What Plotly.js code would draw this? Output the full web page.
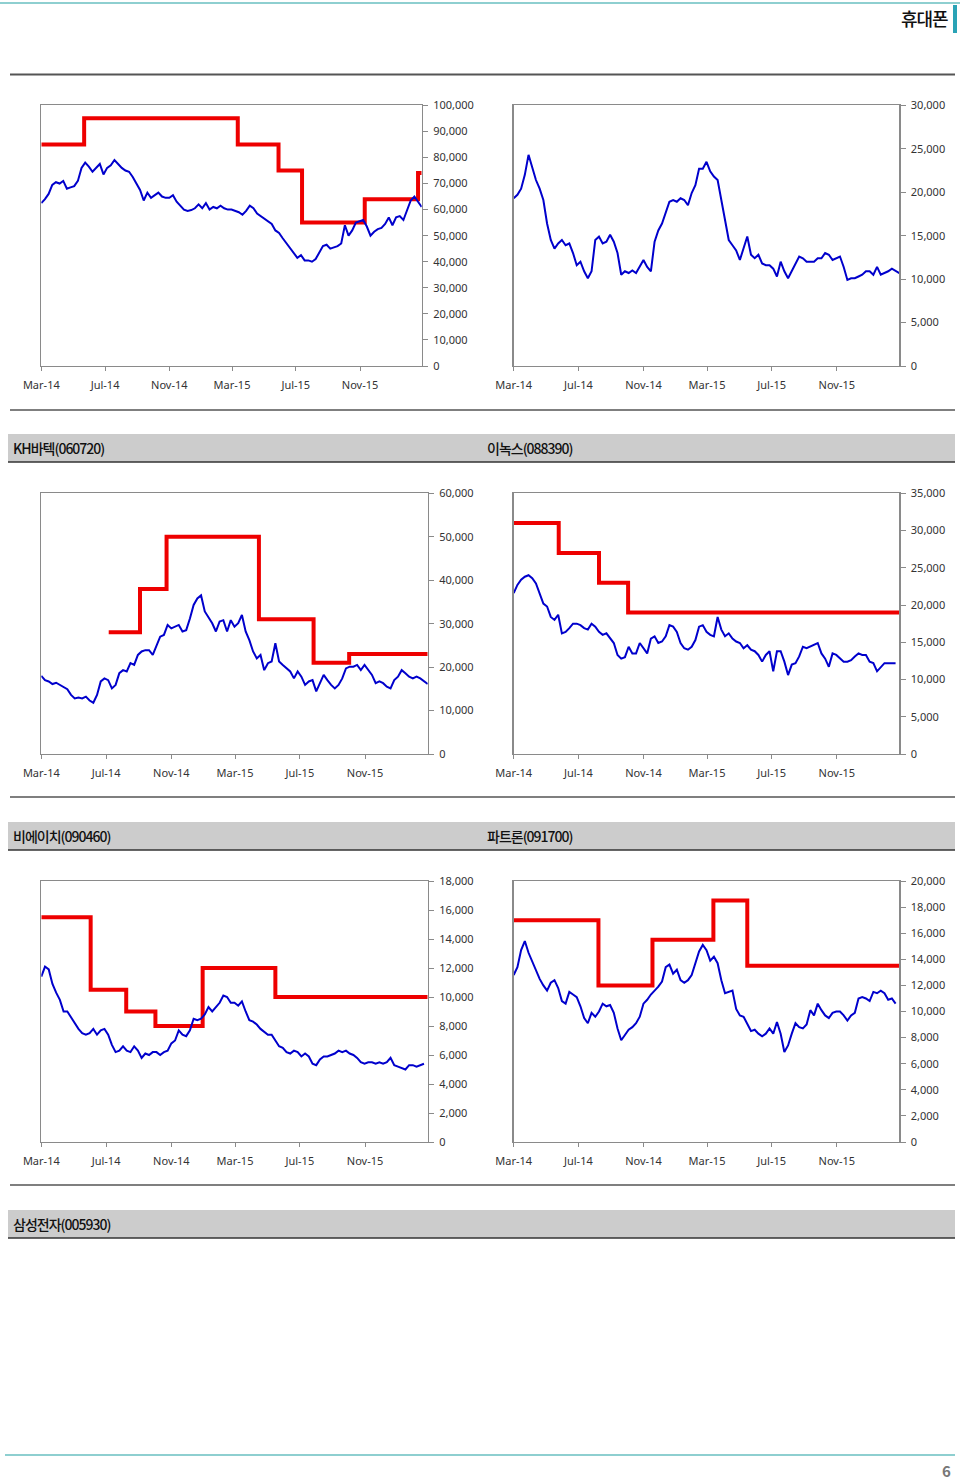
<!DOCTYPE html>
<html>
<head>
<meta charset="utf-8">
<script src="https://cdn.plot.ly/plotly-3.0.1.min.js"></script>
<style>
html,body{margin:0;padding:0;background:#fff;}
#chart{width:960px;height:1481px;}
.annotation-text{letter-spacing:-1px;}
</style>
</head>
<body>
<div id="chart"></div>
<script>
// ---------- DATA (weekly closes from 2014-03-01, target price steps) ----------
const weekStart = '2014-03-01';

const close1 = [62500,64000,66000,69500,70500,70000,71000,68000,68500,69000,
71000,76000,78000,76500,74500,76000,77500,73500,76000,77000,
79000,77500,76000,75000,74500,72500,70000,67500,63500,66500,
64500,65500,66500,65000,64500,64500,65500,63000,61500,60000,
59500,59800,60500,62000,60500,62500,60000,61000,60500,61500,
60500,60000,60000,59500,59000,58000,59500,61500,60500,58500,
57500,56500,55500,54500,52000,51000,49000,47000,45500,43500,
41500,42500,40500,40500,40000,41000,43500,46000,46500,45000,
45500,46000,47000,54000,50000,52000,55000,55500,56000,53500,
50000,51500,52500,53000,54500,57000,54000,57000,57500,56000,
59500,63500,65000,63000,61000];
const target1Dates = ['2014-03-01','2014-05-22','2015-03-12','2015-05-29','2015-07-13','2015-11-10','2016-02-20','2016-02-27'];
const target1Values = [85000,95000,85000,75000,55000,64000,74000,74000];

const close2 = [19300,19700,20400,22000,24300,22700,21400,20400,19100,16400,
14500,13500,14100,14500,13900,14100,13000,11600,12000,10900,
10100,10900,14500,14900,14100,14300,15100,14300,13000,10500,
10900,10700,11000,10700,11400,12200,11400,10900,14300,15600,
16400,17600,18900,19100,18900,19300,19100,18500,19900,20800,
22700,22700,23500,22400,21800,21400,19100,16800,14500,13900,
13300,12200,13700,14900,12800,12400,12800,11800,11600,11600,
11200,10300,12000,10900,10100,10900,11800,12600,12400,12000,
12000,12000,12400,12400,13000,12800,12200,12400,12600,11400,
9900,10100,10100,10300,10500,10900,10900,10500,11400,10500,
10700,10900,11200,10900,10700];

const close3 = [18000,17000,16700,16100,16400,15900,15300,14900,13600,12800,
13000,12800,13200,12300,11800,13600,16700,17400,17000,15100,
15900,18600,19300,19000,20900,20500,22800,23600,23900,23900,
22800,24700,27000,27400,29700,28900,29300,29700,28200,28500,
31200,34300,35800,36500,32800,31600,30100,28200,30500,30800,
28200,30800,29300,30100,32000,28200,26200,23600,22000,22800,
19300,20900,21300,25500,21300,20500,19700,19000,17400,19000,
17800,15900,16700,17000,14400,16300,18200,17000,15900,15100,
15900,17400,19700,20100,20100,20500,19300,20500,19300,18200,
16300,16700,16300,15500,15100,17000,17800,19300,18600,17800,
17400,17800,17400,16700,16100];
const target3Dates = ['2014-07-06','2014-09-03','2014-10-23','2015-04-15','2015-07-27','2015-10-02','2016-02-27'];
const target3Values = [28000,38000,50000,31000,21000,23000,23000];

const close4 = [21600,22700,23400,23800,24000,23600,22900,21400,20200,19800,
18400,18000,18700,16200,16400,16900,17500,17500,17300,16900,
16700,17500,17100,16400,16000,16200,15500,14900,13300,12800,
13000,14400,13500,13500,14900,14200,13500,15500,15800,14900,
15100,15800,17300,17100,16400,14900,14200,14000,14400,15300,
17100,17300,16400,16000,15800,18400,16700,15800,16200,15500,
15100,14900,14200,14600,14000,13800,13300,12400,13300,13800,
11100,13800,13800,12400,10600,12000,12200,13100,14400,14200,
14400,14600,14900,13500,12800,11700,13500,13300,12800,12400,
12400,12600,13100,13500,13300,13300,12400,12200,11100,11700,
12200,12200,12200,12200];
const target4Dates = ['2014-03-01','2014-05-25','2014-08-09','2014-10-03','2016-02-27'];
const target4Values = [31000,27000,23000,19000,19000];

const close5 = [11400,12100,11900,10900,10300,9800,9000,9000,8600,8200,
7800,7500,7400,7500,7800,7400,7700,7800,7400,6700,
6200,6300,6600,6300,6200,6600,6300,5800,6100,6000,
6200,6200,6000,6200,6300,6800,7000,7700,7400,7300,
7700,8500,8400,8500,8800,9300,9000,9300,9600,10100,
10000,9600,9600,9400,9700,9000,8400,8300,8100,7800,
7600,7400,7400,7000,6600,6500,6200,6100,6300,6200,
5900,6100,5900,5400,5300,5700,5900,5900,6000,6100,
6300,6200,6300,6100,6000,5800,5500,5400,5500,5500,
5400,5500,5400,5500,5800,5300,5200,5100,5000,5300,
5300,5200,5300,5400];
const target5Dates = ['2014-03-01','2014-06-02','2014-08-08','2014-10-02','2014-12-30','2015-05-16','2016-02-27'];
const target5Values = [15500,10500,9000,8000,12000,10000,10000];

const close6 = [12800,13400,14700,15400,14500,13800,13200,12500,12000,11600,
12200,12400,11800,10800,10600,11500,11300,11100,10400,9500,
9100,9900,9600,10000,10600,10400,10500,9900,8700,7800,
8200,8600,8800,9100,9600,10600,10900,11300,11600,11900,
12300,13400,13600,12900,13200,12400,12200,12400,12800,13800,
14600,15100,14700,13900,14200,13700,12400,11400,11500,11600,
10200,9700,9600,9100,8500,8600,8300,8100,8300,8700,
8300,9200,8300,6900,7400,8300,9100,8800,8700,9000,
10100,9700,10600,10100,9700,9500,9900,10000,10000,9700,
9300,9700,9900,11000,11100,11000,10800,11500,11400,11600,
11400,10900,11000,10600];
const target6Dates = ['2014-03-01','2014-08-08','2014-11-18','2015-03-13','2015-05-16','2016-02-27'];
const target6Values = [17000,12000,15500,18500,13500,13500];

const yMax = [100000, 30000, 60000, 35000, 18000, 20000];
const yStep = [10000, 5000, 10000, 5000, 2000, 2000];
const sectionLabels = ['KH바텍(060720)','이녹스(088390)','비에이치(090460)','파트론(091700)','삼성전자(005930)'];
const pageTitle = '휴대폰';
const pageNumber = '6';

// ---------- BUILD ----------
const W = 960, H = 1481;
const px = x => x / W;
const py = y => 1 - y / H;

function weeklyDates(n){
  const out = [];
  const t0 = Date.parse(weekStart + 'T00:00:00Z');
  for (let i = 0; i < n; i++) out.push(new Date(t0 + i * 7 * 86400000).toISOString().slice(0,10));
  return out;
}

const BLUE = '#0000CC', RED = '#EE0000', AX = '#8a8a8a';
const closes = [close1, close2, close3, close4, close5, close6];
const targets = [[target1Dates,target1Values], null, [target3Dates,target3Values], [target4Dates,target4Values], [target5Dates,target5Values], [target6Dates,target6Values]];

const traces = [];
closes.forEach((c, i) => {
  const sfx = i === 0 ? '' : String(i + 1);
  const t = targets[i];
  if (t) traces.push({x: t[0], y: t[1], type: 'scatter', mode: 'lines', line: {color: RED, width: 4, shape: 'hv'}, xaxis: 'x' + sfx, yaxis: 'y' + sfx, hoverinfo: 'skip'});
  traces.push({x: weeklyDates(c.length), y: c, type: 'scatter', mode: 'lines', line: {color: BLUE, width: 2}, xaxis: 'x' + sfx, yaxis: 'y' + sfx, hoverinfo: 'skip'});
});

// plot area pixel boxes [left, right, top, bottom]
const boxes = [
  [41.3, 421.7, 105.3, 366], [513.7, 899.3, 105.3, 366],
  [41.3, 427.7, 493.3, 754], [513.7, 899.3, 493.3, 754],
  [41.3, 427.7, 881, 1142], [513.7, 899.3, 881, 1142]
];
const tickFont = {family: 'Noto Sans, Open Sans, sans-serif', size: 11, color: '#333'};
const layout = {
  width: W, height: H, margin: {l: 0, r: 0, t: 0, b: 0},
  paper_bgcolor: '#fff', plot_bgcolor: '#fff', showlegend: false,
  font: {family: 'Noto Sans, sans-serif'},
  shapes: [], annotations: []
};
boxes.forEach((b, i) => {
  const sfx = i === 0 ? '' : String(i + 1);
  layout['xaxis' + sfx] = {
    domain: [px(b[0]), px(b[1])], anchor: 'y' + sfx, type: 'date',
    range: ['2014-03-01', '2016-02-27'], tick0: '2014-03-01', dtick: 'M4', tickformat: '%b-%y',
    ticks: 'outside', ticklen: 4, tickcolor: AX, showline: true, linecolor: AX, linewidth: 1.3,
    mirror: true, showgrid: false, zeroline: false, tickfont: tickFont, ticklabelstandoff: 4, fixedrange: true
  };
  layout['yaxis' + sfx] = {
    domain: [py(b[3]), py(b[2])], anchor: 'x' + sfx, side: 'right',
    range: [0, yMax[i]], tick0: 0, dtick: yStep[i], tickformat: ',d',
    ticks: 'outside', ticklen: 5, tickcolor: AX, showline: true, linecolor: AX, linewidth: 1.3,
    mirror: true, showgrid: false, zeroline: false, tickfont: tickFont, ticklabelstandoff: 3, fixedrange: true
  };
});

function hline(y, x0, x1, color, width){
  layout.shapes.push({type: 'line', xref: 'paper', yref: 'paper', x0: px(x0), x1: px(x1), y0: py(y), y1: py(y), line: {color, width}});
}
function rect(x0, x1, y0, y1, fill){
  layout.shapes.push({type: 'rect', xref: 'paper', yref: 'paper', x0: px(x0), x1: px(x1), y0: py(y1), y1: py(y0), fillcolor: fill, line: {width: 0}, layer: 'below'});
}
function label(text, x, y, anchor, size, color, weight){
  layout.annotations.push({text, xref: 'paper', yref: 'paper', x: px(x), y: py(y), xanchor: anchor, yanchor: 'middle', showarrow: false,
    borderpad: 0, font: {family: 'Noto Sans CJK KR, sans-serif', size, color, weight: weight || 400}});
}

// header
hline(3, 0, 960, '#8ECFD0', 2);
rect(953, 957, 5, 33, '#2AA3B6');
label(pageTitle, 949, 18, 'right', 18, '#111', 500);
hline(74.5, 10, 955, '#555', 2);

// section bands
const bands = [[410, 434, 462], [797, 822, 850], [1185, 1210, 1238]];
bands.forEach(b => {
  hline(b[0], 10, 955, '#555', 1.5);
  rect(8, 955, b[1], b[2], '#CCCCCC');
  hline(b[2], 8, 955, '#333', 1.5);
});
label(sectionLabels[0], 12, 448, 'left', 14, '#111', 500);
label(sectionLabels[1], 486, 448, 'left', 14, '#111', 500);
label(sectionLabels[2], 12, 836, 'left', 14, '#111', 500);
label(sectionLabels[3], 486, 836, 'left', 14, '#111', 500);
label(sectionLabels[4], 12, 1224, 'left', 14, '#111', 500);

// footer
hline(1455, 5, 955, '#8ECFD0', 2);
label(pageNumber, 952, 1470, 'right', 15, '#777', 700);

Plotly.newPlot('chart', traces, layout, {staticPlot: true, displayModeBar: false});
</script>
</body>
</html>
